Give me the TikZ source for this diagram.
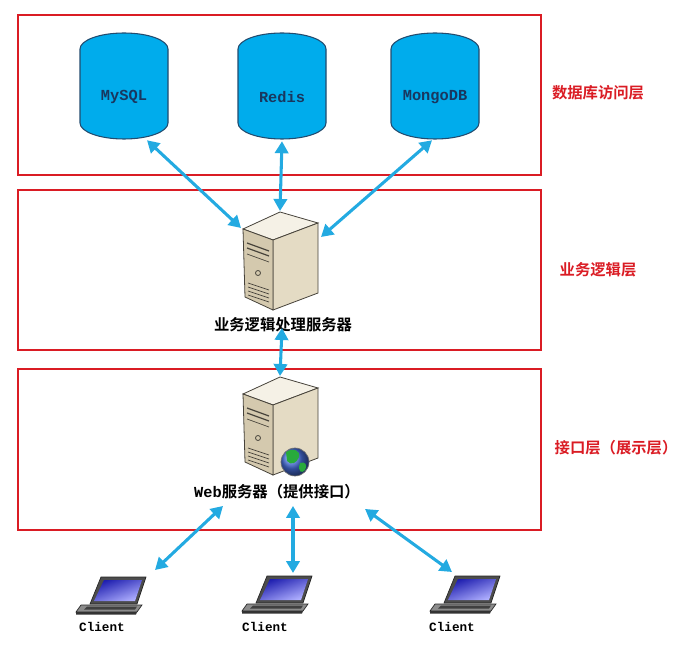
\documentclass[tikz,border=0pt]{standalone}
\usepackage{fontspec}
\setmonofont{Liberation Mono}
\newfontfamily\cjk{Noto Sans CJK SC}[BoldFont={Noto Sans CJK SC Bold}]
\usetikzlibrary{arrows.meta,calc}

\definecolor{layerred}{RGB}{218,28,36}
\definecolor{linkblue}{RGB}{35,170,225}
\definecolor{dbfill}{RGB}{0,172,236}
\definecolor{dbline}{RGB}{35,75,110}
\definecolor{dbtext}{RGB}{25,55,95}
\definecolor{caseTop}{RGB}{245,241,230}
\definecolor{caseSide}{RGB}{228,219,196}
\definecolor{caseFront}{RGB}{212,201,174}
\definecolor{caseLine}{RGB}{70,66,58}
\definecolor{scrDark}{RGB}{30,30,175}
\definecolor{scrLight}{RGB}{175,175,255}
\definecolor{globeBlue}{RGB}{70,110,220}
\definecolor{globeGreen}{RGB}{40,170,60}

\tikzset{
  layerbox/.style={draw=layerred, line width=2.2pt},
  layername/.style={text=layerred, font=\cjk\bfseries\fontsize{11.5}{13}\selectfont, inner sep=0pt},
  dbbody/.style={fill=dbfill, draw=dbline, line width=0.8pt},
  dbname/.style={minimum width=66pt, minimum height=63pt, inner sep=0pt, text=dbtext,
    font=\ttfamily\bfseries\fontsize{11.5}{13}\selectfont},
  link/.style={draw=linkblue, line width=2.3pt,
    {Triangle[length=9pt,width=10pt]}-{Triangle[length=9pt,width=10pt]}},
  srvname/.style={font=\cjk\bfseries\fontsize{11.5}{13}\selectfont, inner sep=1pt},
  pcname/.style={font=\ttfamily\bfseries\fontsize{9.5}{11}\selectfont, inner sep=1pt},
  server/.pic={
    %top, side and front of the case
    \filldraw[fill=caseTop, draw=caseLine, line width=0.6pt] (0,-49) -- (38,-38) -- (-7,-21) -- (-37,-32) -- cycle;
    \filldraw[fill=caseSide, draw=caseLine, line width=0.6pt] (-7,-21) -- (38,-38) -- (38,32) -- (-7,49) -- cycle;
    \filldraw[fill=caseFront, draw=caseLine, line width=0.6pt] (-37,-32) -- (-7,-21) -- (-7,49) -- (-35,36) -- cycle;
    %drive bays, button, vents
    \draw[caseLine, line width=0.9pt] (-33,-18) -- (-11,-10);
    \draw[caseLine, line width=0.9pt] (-33,-13) -- (-11,-5);
    \draw[caseLine, line width=0.5pt] (-33,-7) -- (-11,1);
    \draw[caseLine, line width=0.6pt] (-22,12) circle (2.5);
    \foreach \v in {22,26,30,34}
      \draw[caseLine, line width=0.5pt] (-32,\v) -- (-11,\v+7);
    \coordinate (-lt) at (-39,-33);
    \coordinate (-tp) at (0,-50);
    \coordinate (-rt) at (41,-24);
  },
  laptop/.pic={
    %lid and screen
    \filldraw[fill=black!70, draw=black!85, line width=0.5pt] (-10,-18) -- (35,-18) -- (26,9) -- (-21,9) -- cycle;
    \shade[top color=scrDark, bottom color=scrLight, shading angle=20] (-7,-15) -- (31,-15) -- (24,6) -- (-17,6) -- cycle;
    %base and keyboard
    \filldraw[fill=black!45, draw=black!85, line width=0.5pt] (-30,10) -- (31,10) -- (26,17) -- (-35,17) -- cycle;
    \fill[black!75] (-24,11.5) -- (26,11.5) -- (24,14.5) -- (-27,14.5) -- cycle;
    \fill[black!80] (-35,17) -- (26,17) -- (25,19.5) -- (-35,19.5) -- cycle;
    \coordinate (-c) at (0,0);
  },
}

\begin{document}
\begin{tikzpicture}[x=0.75pt,y=0.75pt,yscale=-1,xscale=1]
\useasboundingbox (0,0) rectangle (688,648);

%Shape: Rectangle (layers)
\draw[layerbox] (18,15) rectangle (541,175);
\draw[layerbox] (18,190) rectangle (541,350);
\draw[layerbox] (18,369) rectangle (541,530);

% Text Node
\node[layername] (nmData) at (598,93) {数据库访问层};
\node[layername] (nmLogic) at (598,270) {业务逻辑层};
\node[layername] (nmApi) at (616,448) {接口层（展示层）};

%Shape: Can
\foreach \cx/\nm/\txt in {124/dbMy/MySQL, 282/dbRedis/Redis, 435/dbMongo/MongoDB}{
  \filldraw[dbbody] (\cx-44,49) arc[start angle=180, end angle=360, x radius=44, y radius=16]
    -- (\cx+44,123) arc[start angle=0, end angle=180, x radius=44, y radius=16] -- cycle;
  \node[dbname] (\nm) at (\cx,97) {\txt};
}

%Servers
\pic[transform shape] (srvLogic) at (280,261) {server};
\node[srvname] (lblLogic) at (283,325) {业务逻辑处理服务器};
\pic[transform shape] (srvWeb) at (280,426) {server};
\shade[ball color=globeBlue] (295,462) circle (14);
\fill[globeGreen] (286,452) .. controls (293,447) and (301,451) .. (299,457) .. controls (297,463) and (291,466) .. (287,461) -- cycle;
\fill[globeGreen] (300,463) .. controls (305,461) and (308,465) .. (305,470) .. controls (302,474) and (297,472) .. cycle;
\draw[black!55, line width=0.5pt] (295,462) circle (14);
\node[srvname] (lblWeb) at (277,492) {{\ttfamily Web}服务器（提供接口）};

%Clients
\pic[transform shape] (pcA) at (111,595) {laptop};
\pic[transform shape] (pcB) at (277,594) {laptop};
\pic[transform shape] (pcC) at (465,594) {laptop};
\node[pcname] (cliA) at (102,627) {Client};
\node[pcname] (cliB) at (265,627) {Client};
\node[pcname] (cliC) at (452,627) {Client};

%Arrows
\draw[link] ($(dbMy.south)+(23,1)$) -- (srvLogic-lt);
\draw[link] ($(dbRedis.south)+(0,2)$) -- (srvLogic-tp);
\draw[link] ($(dbMongo.south)+(-3,1)$) -- (srvLogic-rt);
\draw[link] ($(lblLogic.center)+(-1,3)$) -- (srvWeb-tp);
\draw[link] ($(lblWeb.south)+(-54,5)$) -- ($(pcA-c)+(44,-25)$);
\draw[link] ($(lblWeb.south)+(16,5)$) -- ($(pcB-c)+(16,-21)$);
\draw[link] ($(lblWeb.south)+(88,8)$) -- ($(pcC-c)+(-13,-22)$);
\end{tikzpicture}
\end{document}
